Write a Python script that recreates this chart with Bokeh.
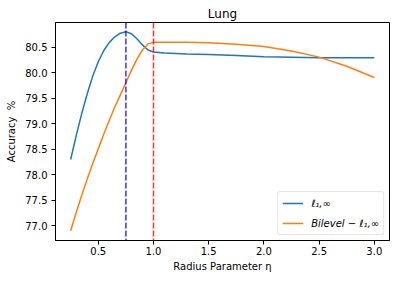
from bokeh.plotting import figure
from bokeh.models import Range1d, FixedTicker, Span, Legend, LegendItem, NumeralTickFormatter
from bokeh.embed import file_html
from bokeh.resources import INLINE

# --- data ---
x_vals = [0.25, 0.30, 0.35, 0.40, 0.45, 0.50, 0.55, 0.60, 0.65, 0.70, 0.75,
          0.80, 0.85, 0.90, 0.95, 1.00, 1.10, 1.20, 1.30, 1.40, 1.50,
          1.75, 2.00, 2.25, 2.50, 2.75, 3.00]
l1inf = [78.30, 78.77, 79.20, 79.59, 79.94, 80.22, 80.44, 80.60, 80.71, 80.78, 80.81,
         80.77, 80.67, 80.55, 80.45, 80.41, 80.39, 80.38, 80.37, 80.365, 80.36,
         80.34, 80.32, 80.31, 80.30, 80.30, 80.30]
bilevel = [76.90, 77.26, 77.60, 77.92, 78.22, 78.51, 78.80, 79.07, 79.33, 79.57, 79.81,
           80.05, 80.27, 80.45, 80.57, 80.60, 80.60, 80.60, 80.60, 80.595, 80.59,
           80.565, 80.52, 80.43, 80.31, 80.13, 79.91]
vlines = [0.75, 1.0]
vline_colors = ["#0000ff", "#ff0000"]
x_ticks = [0.5, 1.0, 1.5, 2.0, 2.5, 3.0]
y_ticks = [77.0, 77.5, 78.0, 78.5, 79.0, 79.5, 80.0, 80.5]
labels = ["ℓ₁,∞", "Bilevel − ℓ₁,∞"]
title_text = "Lung"
x_label = "Radius Parameter η"
y_label = "Accuracy \u00a0%"

FONT = "DejaVu Sans"

p = figure(width=396, height=282, output_backend="svg", toolbar_location=None,
           x_range=Range1d(0.1125, 3.1375), y_range=Range1d(76.71, 80.99),
           min_border_left=55, min_border_right=7, min_border_top=22, min_border_bottom=42)

p.title.text = title_text
p.title.align = "center"
p.title.text_font = FONT
p.title.text_font_size = "12px"
p.title.text_font_style = "normal"
p.title.text_color = "black"
p.title.standoff = 3
p.title.offset = 0

p.grid.visible = False
p.outline_line_color = "black"
p.outline_line_width = 1
p.background_fill_color = "white"
p.border_fill_color = "white"

for ax in (p.xaxis[0], p.yaxis[0]):
    ax.major_tick_out = 4
    ax.major_tick_in = 0
    ax.minor_tick_line_color = None
    ax.major_label_text_font = FONT
    ax.major_label_text_font_size = "10px"
    ax.major_label_text_color = "black"
    ax.axis_label_text_font = FONT
    ax.axis_label_text_font_size = "10px"
    ax.axis_label_text_font_style = "normal"
    ax.axis_label_text_color = "black"
    ax.axis_line_color = "black"
    ax.major_tick_line_color = "black"
    ax.formatter = NumeralTickFormatter(format="0.0")

p.xaxis[0].major_label_standoff = 2
p.xaxis[0].axis_label_standoff = 3
p.yaxis[0].major_label_standoff = 4
p.yaxis[0].axis_label_standoff = 5

p.xaxis[0].ticker = FixedTicker(ticks=x_ticks)
p.yaxis[0].ticker = FixedTicker(ticks=y_ticks)
p.xaxis[0].axis_label = x_label
p.yaxis[0].axis_label = y_label

r1 = p.line(x_vals, l1inf, line_color="#1f77b4", line_width=1.5)
r2 = p.line(x_vals, bilevel, line_color="#ff7f0e", line_width=1.5)

for xv, c in zip(vlines, vline_colors):
    p.add_layout(Span(location=xv, dimension="height", line_color=c, line_alpha=0.8,
                      line_width=1.5, line_dash="6 2"))

legend = Legend(items=[LegendItem(label=labels[0], renderers=[r1]),
                       LegendItem(label=labels[1], renderers=[r2])],
                location="bottom_right")
legend.label_text_font = FONT
legend.label_text_font_size = "10px"
legend.label_text_font_style = "italic"
legend.label_text_color = "black"
legend.border_line_color = "#cccccc"
legend.border_line_width = 1
legend.border_radius = 3
legend.background_fill_alpha = 0.8
legend.margin = 5
legend.padding = 4
legend.spacing = 6
legend.glyph_width = 21
legend.glyph_height = 14
legend.label_height = 14
legend.label_standoff = 8
p.add_layout(legend)

open("out.html", "w").write(file_html(p, INLINE))
